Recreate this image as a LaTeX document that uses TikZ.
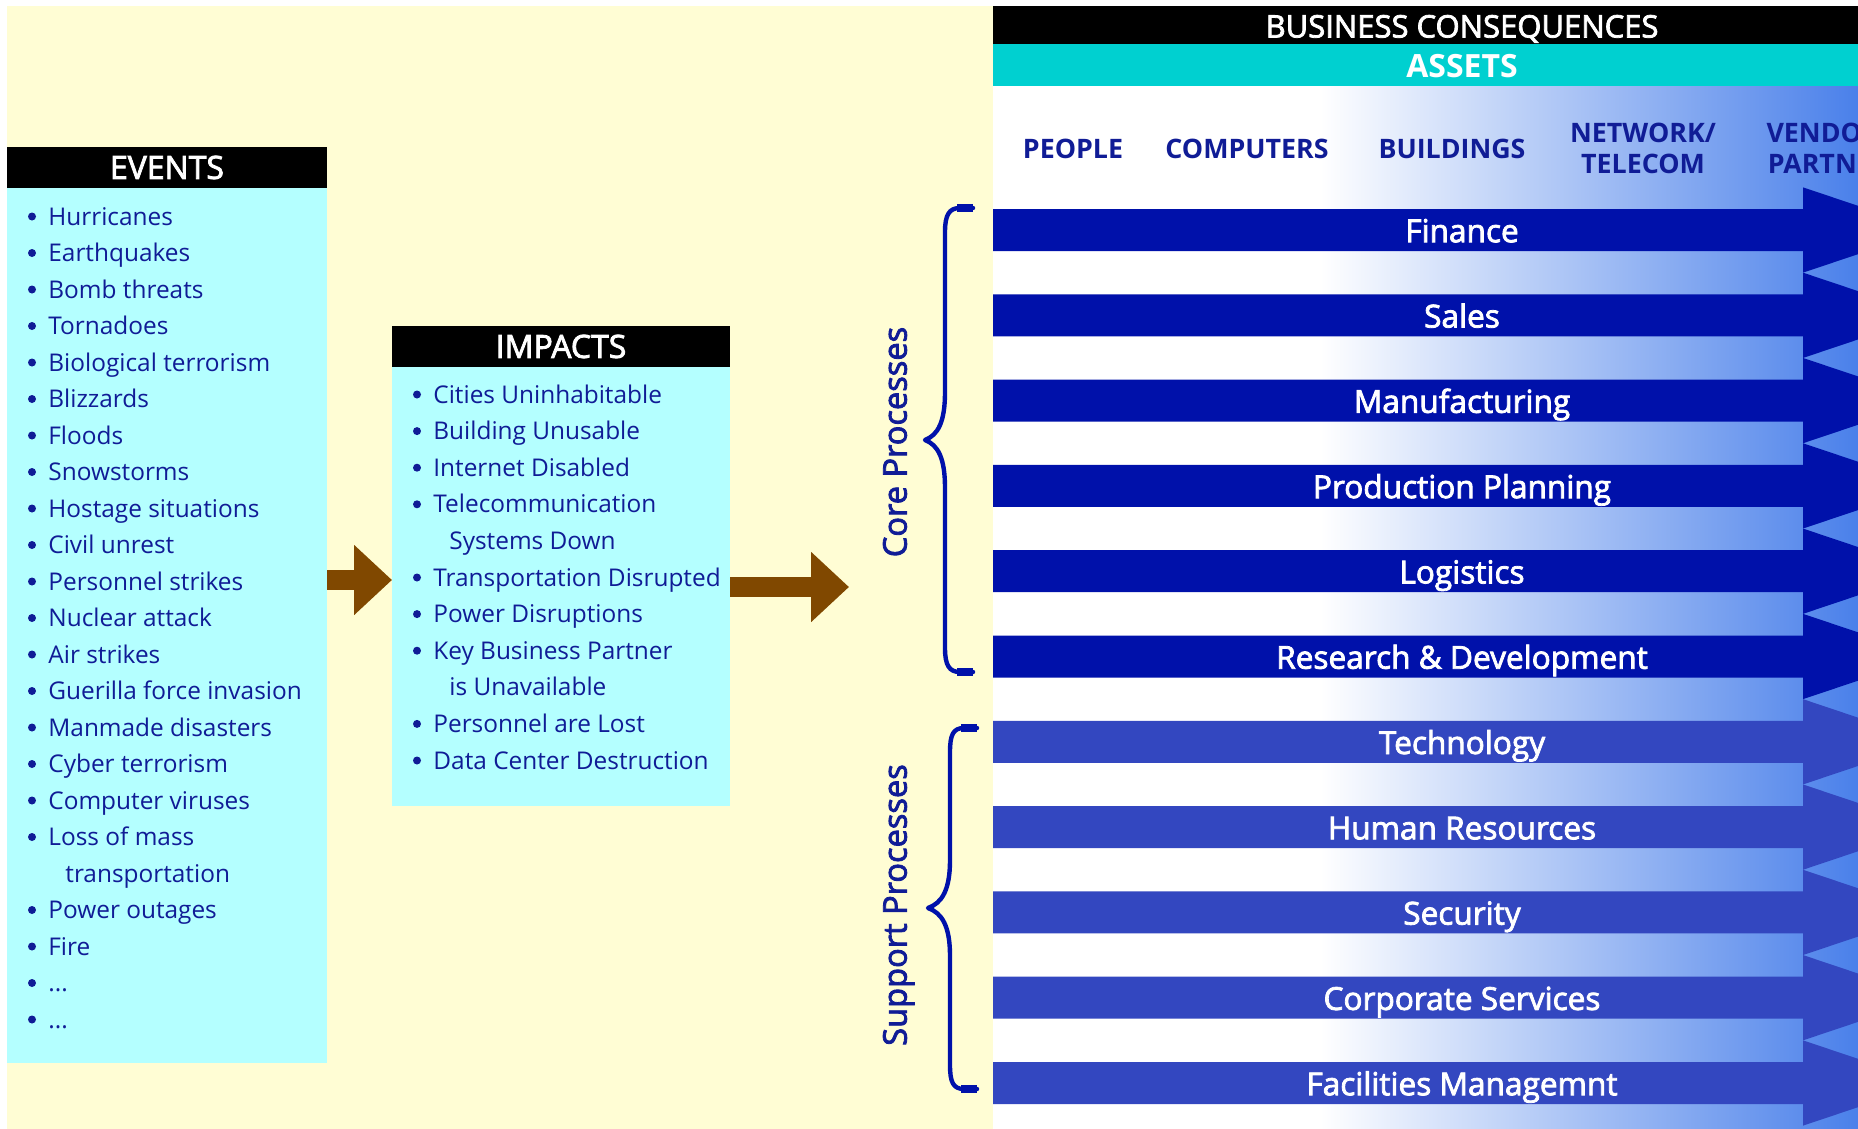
\documentclass[tikz,border=0pt]{standalone}
\usepackage{fontspec}
\setmainfont{Open Sans}
\newfontfamily\semibf{Open Sans}[FakeBold=2.5]
\usetikzlibrary{arrows.meta}
\definecolor{cream}{RGB}{255,253,212}
\definecolor{lcyan}{RGB}{180,255,255}
\definecolor{tcyan}{RGB}{0,208,208}
\definecolor{navy}{RGB}{16,28,150}
\definecolor{coreblue}{RGB}{0,17,170}
\definecolor{supblue}{RGB}{51,71,192}
\definecolor{gradend}{RGB}{74,128,234}
\definecolor{arrbrown}{RGB}{128,72,0}
\newcommand\myellip{...}
\begin{document}
\begin{tikzpicture}[x=0.5pt,y=-0.5pt,
  box/.style={anchor=north west,inner sep=0pt,outer sep=0pt},
  itm/.style={anchor=base west,inner sep=0pt,font=\fontsize{12.2}{14}\selectfont,text=navy},
  bulc/.style={circle,fill=navy,inner sep=0pt,minimum size=4pt},
  hdrtxt/.style={inner sep=0pt,text=white,font=\semibf\fontsize{16}{18}\selectfont,text height=11.4pt,text depth=0pt},
  colhdr/.style={inner sep=0pt,text=navy,font=\bfseries\fontsize{13.4}{15}\selectfont,text height=9.6pt,text depth=0pt},
  bandtxt/.style={inner sep=0pt,text=white,font=\semibf\fontsize{15.8}{18}\selectfont,text height=11.2pt,text depth=0pt},
  sidetxt/.style={inner sep=0pt,text=navy,rotate=90,font=\semibf\fontsize{16.3}{18}\selectfont,text height=11.6pt,text depth=0pt},
  bigarrow/.style={draw=arrbrown,line width=10pt,-{Triangle[length=19pt,width=34pt]}},
  brace/.style={draw=coreblue,line width=2.2pt,line cap=round,line join=round},
  braceend/.style={draw=coreblue,line width=3.6pt},
]
\useasboundingbox (0,0) rectangle (1858,1129);
\clip (0,0) rectangle (1858,1129);
\fill[white] (0,0) rectangle (1858,1129);
\fill[cream] (7,6) rectangle (993,1129);

% ---------- gradient background of the right panel ----------
\fill[white] (993,80) rectangle (1320,1129);
\shade[left color=white,right color=gradend] (1320,80) rectangle (1858,1129);

% ---------- EVENTS ----------
\node[box,fill=black,minimum width=160pt,minimum height=20.5pt,hdrtxt] (evhdr) at (7,147) {EVENTS};
\node[box,fill=lcyan,minimum width=160pt,minimum height=437.5pt] (evbox) at (7,188) {};
\foreach \k/\t/\b in {0/Hurricanes/1,1/Earthquakes/1,2/Bomb threats/1,3/Tornadoes/1,
  4/Biological terrorism/1,5/Blizzards/1,6/Floods/1,7/Snowstorms/1,8/Hostage situations/1,
  9/Civil unrest/1,10/Personnel strikes/1,11/Nuclear attack/1,12/Air strikes/1,
  13/Guerilla force invasion/1,14/Manmade disasters/1,15/Cyber terrorism/1,
  16/Computer viruses/1,17/Loss of mass/1,18/transportation/0,19/Power outages/1,
  20/Fire/1,21/\myellip/1,22/\myellip/1}{
  \pgfmathsetmacro\yy{225+36.5*\k}
  \ifnum\b=1
    \node[bulc] (evb\k) at (32,\yy-8.5) {};
    \node[itm] (ev\k) at (48,\yy) {\t};
  \else
    \node[itm] (ev\k) at (65,\yy) {\t};
  \fi
}

% ---------- IMPACTS ----------
\node[box,fill=black,minimum width=169pt,minimum height=20.5pt,hdrtxt] (imphdr) at (392,326) {IMPACTS};
\node[box,fill=lcyan,minimum width=169pt,minimum height=219.5pt] (impbox) at (392,367) {};
\foreach \k/\t/\b in {0/Cities Uninhabitable/1,1/Building Unusable/1,2/Internet Disabled/1,
  3/Telecommunication/1,4/Systems Down/0,5/Transportation Disrupted/1,6/Power Disruptions/1,
  7/Key Business Partner/1,8/is Unavailable/0,9/Personnel are Lost/1,10/Data Center Destruction/1}{
  \pgfmathsetmacro\yy{403+36.6*\k}
  \ifnum\b=1
    \node[bulc] (imb\k) at (417,\yy-8.5) {};
    \node[itm] (im\k) at (433,\yy) {\t};
  \else
    \node[itm] (im\k) at (449,\yy) {\t};
  \fi
}

% ---------- arrows ----------
\coordinate (a2end) at (849,587);
\draw[bigarrow] (evbox.east |- 0,580) -- (impbox.west |- 0,580);
\draw[bigarrow] (impbox.east |- 0,587) -- (a2end);

% ---------- BUSINESS CONSEQUENCES header ----------
\node[box,fill=black,minimum width=432.5pt,minimum height=19pt] (bcbar) at (993,6) {};
\node[box,fill=tcyan,minimum width=432.5pt,minimum height=21pt] (asbar) at (993,44) {};
\node[hdrtxt,font=\semibf\fontsize{15.5}{17}\selectfont,text height=11pt] (bctitle) at (1462,26.5) {BUSINESS CONSEQUENCES};
\node[hdrtxt,font=\bfseries\fontsize{16}{18}\selectfont] (astitle) at (1462,66.5) {ASSETS};

\node[colhdr] (cpeople) at (1073,148.5) {PEOPLE};
\node[colhdr] (ccomp) at (1247,148.5) {COMPUTERS};
\node[colhdr] (cbuild) at (1452,148.5) {BUILDINGS};
\node[colhdr] (cnet1) at (1643,132.5) {NETWORK/};
\node[colhdr] (cnet2) at (1643,164) {TELECOM};
\node[colhdr] (cven1) at (1836,132.5) {VENDORS/};
\node[colhdr] (cven2) at (1836,164) {PARTNERS};

% ---------- process bands ----------
\foreach \i/\lab/\col in {0/Finance/coreblue,1/Sales/coreblue,2/Manufacturing/coreblue,
  3/Production Planning/coreblue,4/Logistics/coreblue,5/Research \& Development/coreblue,
  6/Technology/supblue,7/Human Resources/supblue,8/Security/supblue,
  9/Corporate Services/supblue,10/Facilities Managemnt/supblue}{
  \pgfmathsetmacro\c{230+85.3*\i}
  \fill[\col] (993,\c-21) -- (1803,\c-21) -- (1803,\c-42.65) -- (1930,\c)
     -- (1803,\c+42.65) -- (1803,\c+21) -- (993,\c+21) -- cycle;
  \node[bandtxt] (band\i) at (1462,\c+1) {\lab};
}

% ---------- braces and side labels ----------
\draw[brace] (973,208) -- (960,208) .. controls (949,208) and (945,215) .. (945,232)
  -- (945,392) .. controls (945,422) and (938,435) .. (925,440)
  .. controls (938,445) and (945,458) .. (945,488)
  -- (945,648) .. controls (945,665) and (949,672) .. (960,672) -- (973,672);
\draw[braceend] (957,208) -- (973,208);
\draw[braceend] (957,672) -- (973,672);

\draw[brace] (977,728) -- (964,728) .. controls (953,728) and (950,735) .. (950,752)
  -- (950,860) .. controls (950,890) and (942,903) .. (928,908)
  .. controls (942,913) and (950,926) .. (950,956)
  -- (950,1065) .. controls (950,1082) and (953,1089) .. (964,1089) -- (977,1089);
\draw[braceend] (961,728) -- (977,728);
\draw[braceend] (961,1089) -- (977,1089);

\node[sidetxt] (coreproc) at (895,442) {Core Processes};
\node[sidetxt] (supproc) at (895,905) {Support Processes};
\end{tikzpicture}
\end{document}
